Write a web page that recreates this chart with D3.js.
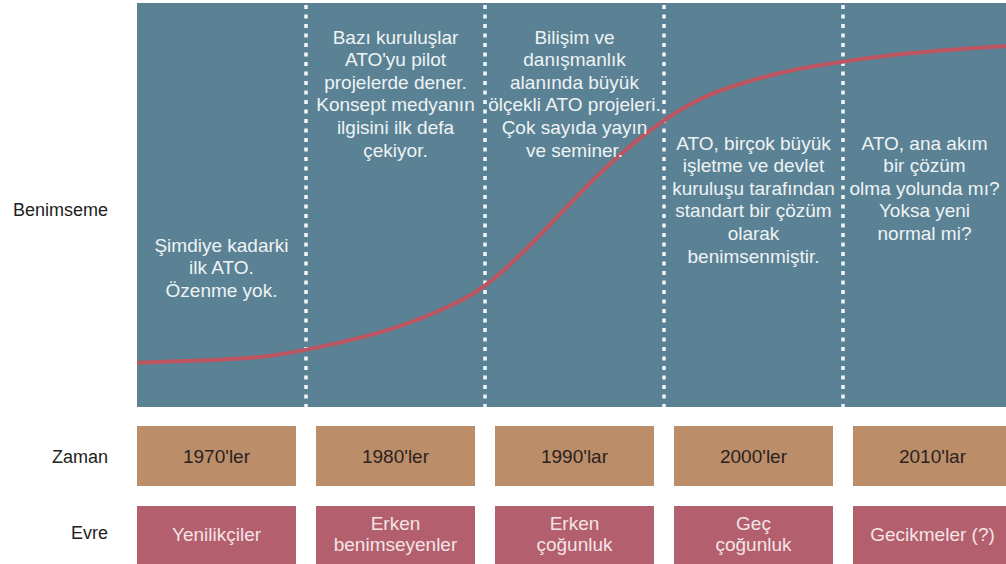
<!DOCTYPE html>
<html>
<head>
<meta charset="utf-8">
<script src="https://cdn.jsdelivr.net/npm/d3@7"></script>
<style>
  body { margin: 0; background: #fff; }
  svg { display: block; font-family: "Liberation Sans", Arial, sans-serif; }
</style>
</head>
<body>
<div id="chart"></div>
<script>
// decades (columns)
const decades = [1970, 1980, 1990, 2000, 2010];
const decadeLabels = ["1970'ler", "1980'ler", "1990'lar", "2000'ler", "2010'lar"];
const phaseLabels = [
  ["Yenilikçiler"],
  ["Erken", "benimseyenler"],
  ["Erken", "çoğunluk"],
  ["Geç", "çoğunluk"],
  ["Gecikmeler (?)"]
];
const notes = [
  ["Şimdiye kadarki", "ilk ATO.", "Özenme yok."],
  ["Bazı kuruluşlar", "ATO'yu pilot", "projelerde dener.", "Konsept medyanın", "ilgisini ilk defa", "çekiyor."],
  ["Bilişim ve", "danışmanlık", "alanında büyük", "ölçekli ATO projeleri.", "Çok sayıda yayın", "ve seminer."],
  ["ATO, birçok büyük", "işletme ve devlet", "kuruluşu tarafından", "standart bir çözüm", "olarak", "benimsenmiştir."],
  ["ATO, ana akım", "bir çözüm", "olma yolunda mı?", "Yoksa yeni", "normal mi?"]
];
const rowLabels = ["Benimseme", "Zaman", "Evre"];

// adoption curve (year, adoption %)
const curveYears = [1970, 1974, 1978, 1980, 1984.7, 1988.5, 1990, 1992, 1993.6, 1995.3, 1997, 1998.7, 2000, 2002, 2004.8, 2007.6, 2009.9, 2013.2, 2019.5];
const curveAdoption = [10.9, 11.4, 12.4, 14.1, 18.6, 25.7, 29.7, 37.6, 45.0, 53.0, 60.4, 66.8, 71.0, 76.7, 80.9, 83.9, 85.4, 87.6, 89.5];

const W = 1006, H = 564;
const panel = { x: 137, y: 3, w: W - 137, h: 404 };
const noteTop = [245, 37, 37, 143, 143];
const fs = 19, lh = 22.6;

const svg = d3.select('#chart').append('svg').attr('width', W).attr('height', H);

const band = d3.scaleBand()
  .domain(decades)
  .range([137, 137 + 179 * (5 - 20 / 179)])
  .paddingInner(20 / 179)
  .paddingOuter(0);

// year scale: dividers sit in the middle of the gaps between boxes
const xYear = d3.scaleLinear()
  .domain([1980, 1990])
  .range([band(1970) + band.bandwidth() + 10, band(1980) + band.bandwidth() + 10]);

const yAdopt = d3.scaleLinear().domain([0, 100]).range([panel.y + panel.h, panel.y]);

svg.append('defs').append('clipPath').attr('id', 'clip')
  .append('rect').attr('x', panel.x).attr('y', panel.y).attr('width', panel.w).attr('height', panel.h);

svg.append('rect')
  .attr('x', panel.x).attr('y', panel.y)
  .attr('width', panel.w).attr('height', panel.h)
  .attr('fill', '#5b8294');

// dotted dividers
svg.append('g').selectAll('line')
  .data(decades.slice(1))
  .enter().append('line')
  .attr('x1', d => xYear(d)).attr('x2', d => xYear(d))
  .attr('y1', panel.y + 2).attr('y2', panel.y + panel.h)
  .attr('stroke', '#f4f7f8')
  .attr('stroke-width', 3.5)
  .attr('stroke-dasharray', '4 5.5');

// adoption curve
const pts = curveYears.map((yr, i) => [xYear(yr), yAdopt(curveAdoption[i])]);
const line = d3.line().curve(d3.curveBasis);
svg.append('path')
  .attr('clip-path', 'url(#clip)')
  .attr('d', line(pts))
  .attr('fill', 'none')
  .attr('stroke', '#bd5561')
  .attr('stroke-width', 4);

// column notes
const noteG = svg.append('g');
notes.forEach((lines, i) => {
  const left = i === 0 ? panel.x : xYear(decades[i]);
  const right = i === 4 ? W : xYear(decades[i] + 10);
  const cx = (left + right) / 2;
  noteG.append('text')
    .attr('text-anchor', 'middle')
    .attr('font-size', fs)
    .attr('fill', '#eef3f4')
    .selectAll('tspan')
    .data(lines)
    .enter().append('tspan')
    .attr('x', cx)
    .attr('y', (d, j) => noteTop[i] + j * lh + fs * 0.35)
    .text(d => d);
});

// Zaman row
const rowY = [426, 506];
const rowH = 60;
svg.append('g').selectAll('rect')
  .data(decades)
  .enter().append('rect')
  .attr('x', d => band(d)).attr('y', rowY[0])
  .attr('width', band.bandwidth()).attr('height', rowH)
  .attr('fill', '#bb8e69');
svg.append('g').selectAll('text')
  .data(decadeLabels)
  .enter().append('text')
  .attr('x', (d, i) => band(decades[i]) + band.bandwidth() / 2)
  .attr('y', rowY[0] + rowH / 2 + fs * 0.35)
  .attr('text-anchor', 'middle')
  .attr('font-size', fs)
  .attr('fill', '#2b2220')
  .text(d => d);

// Evre row
svg.append('g').selectAll('rect')
  .data(decades)
  .enter().append('rect')
  .attr('x', d => band(d)).attr('y', rowY[1])
  .attr('width', band.bandwidth()).attr('height', rowH)
  .attr('fill', '#b35f6d');
phaseLabels.forEach((lines, i) => {
  const cy = rowY[1] + rowH / 2 - 2;
  svg.append('text')
    .attr('text-anchor', 'middle')
    .attr('font-size', fs)
    .attr('fill', '#f3e4e6')
    .selectAll('tspan')
    .data(lines)
    .enter().append('tspan')
    .attr('x', band(decades[i]) + band.bandwidth() / 2)
    .attr('y', (d, j) => cy + (j - (lines.length - 1) / 2) * 21 + fs * 0.35)
    .text(d => d);
});

// row labels
const labelY = [210, 457, 533];
svg.append('g').selectAll('text')
  .data(rowLabels)
  .enter().append('text')
  .attr('x', 108)
  .attr('y', (d, i) => labelY[i] + 18 * 0.35)
  .attr('text-anchor', 'end')
  .attr('font-size', 18)
  .attr('fill', '#222')
  .text(d => d);
</script>
</body>
</html>
